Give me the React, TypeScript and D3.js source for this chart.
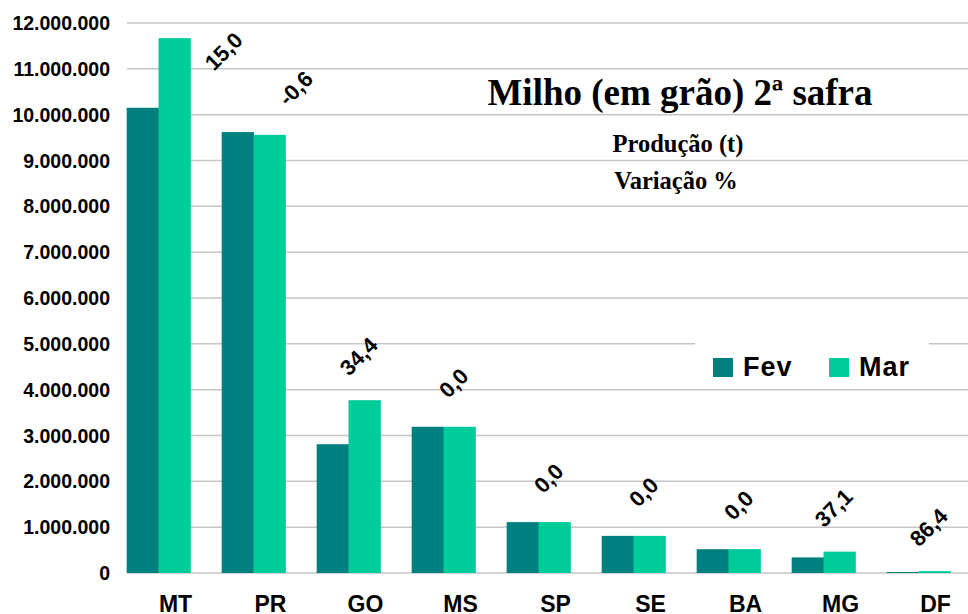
import React from "react";
import * as d3 from "d3";

// Produção (t) por UF, levantamentos de fevereiro e março
const states = ["MT", "PR", "GO", "MS", "SP", "SE", "BA", "MG", "DF"];
const fevValues = [10150000, 9620000, 2810000, 3190000, 1110000, 810000, 520000, 340000, 22000];
const marValues = [11670000, 9560000, 3770000, 3190000, 1110000, 810000, 520000, 466000, 41000];
const variation = [15.0, -0.6, 34.4, 0.0, 0.0, 0.0, 0.0, 37.1, 86.4];
const seriesNames = ["Fev", "Mar"];
const yTicks = d3.range(0, 12000001, 1000000);

const WIDTH = 968;
const HEIGHT = 614;
const colors: Record<string, string> = { Fev: "#007F7F", Mar: "#00CC99" };
const sans = "'Liberation Sans', Arial, sans-serif";
const serif = "'Liberation Serif', 'Times New Roman', serif";

const ptBR = d3.formatLocale({
  decimal: ",",
  thousands: ".",
  grouping: [3],
  currency: ["R$", ""],
});
const fmtInt = ptBR.format(",d");
const fmtPct = (v: number) => v.toFixed(1).replace(".", ",");

// labels that had to be moved by hand in the original chart
const labelNudge: Record<string, [number, number]> = {
  MT: [55, 57],
  PR: [32, 0],
};

export default function App() {
  const plotLeft = 127;
  const x = d3
    .scaleBand()
    .domain(states)
    .range([111, 966])
    .paddingInner(0.33)
    .paddingOuter(0.165);

  const xInner = d3
    .scaleBand()
    .domain(seriesNames)
    .range([0, x.bandwidth()])
    .padding(0);

  const y = d3.scaleLinear().domain([0, 12000000]).range([573, 23]);

  const rows = states.map((s, i) => ({
    state: s,
    Fev: fevValues[i],
    Mar: marValues[i],
    variation: variation[i],
  }));

  return (
    <div style={{ position: "fixed", left: 0, top: 0 }}>
      <svg width={WIDTH} height={HEIGHT} style={{ display: "block", background: "#fff" }}>
        {/* gridlines + y labels */}
        {yTicks.map((t) => (
          <g key={t}>
            <line
              x1={plotLeft}
              x2={WIDTH}
              y1={y(t)}
              y2={y(t)}
              stroke="#c6c6c6"
              strokeWidth={1.5}
            />
            <text
              x={110}
              y={y(t)}
              dy="0.36em"
              textAnchor="end"
              fontFamily={sans}
              fontWeight="bold"
              fontSize={19.5}
              fill="#000"
            >
              {fmtInt(t)}
            </text>
          </g>
        ))}

        {/* bars */}
        {rows.map((r) => (
          <g key={r.state} transform={`translate(${x(r.state)},0)`}>
            {seriesNames.map((s) => {
              const v = (r as any)[s] as number;
              return (
                <rect
                  key={s}
                  x={xInner(s)}
                  y={y(v)}
                  width={xInner.bandwidth() + 0.5}
                  height={y(0) - y(v)}
                  fill={colors[s]}
                />
              );
            })}
          </g>
        ))}

        {/* category labels */}
        {rows.map((r) => (
          <text
            key={r.state}
            x={(x(r.state) ?? 0) + x.bandwidth() / 2 + 17}
            y={612}
            textAnchor="middle"
            fontFamily={sans}
            fontWeight="bold"
            fontSize={23}
            fill="#000"
          >
            {r.state}
          </text>
        ))}

        {/* variation labels */}
        {rows.map((r) => {
          const nudge = labelNudge[r.state] ?? [0, 0];
          const cx = (x(r.state) ?? 0) + x.bandwidth() / 2 + 10 + nudge[0];
          const cy = y(Math.max(r.Fev, r.Mar)) - 44 + nudge[1];
          return (
            <text
              key={r.state}
              transform={`translate(${cx},${cy}) rotate(-45)`}
              textAnchor="middle"
              dy="0.36em"
              fontFamily={sans}
              fontWeight="bold"
              fontSize={22}
              fill="#000"
            >
              {fmtPct(r.variation)}
            </text>
          );
        })}

        {/* title block */}
        <text
          x={680}
          y={105}
          textAnchor="middle"
          fontFamily={serif}
          fontWeight="bold"
          fontSize={37}
          fill="#000"
        >
          Milho (em grão) 2ª safra
        </text>
        <text
          x={678}
          y={152}
          textAnchor="middle"
          fontFamily={serif}
          fontWeight="bold"
          fontSize={24.5}
          fill="#000"
        >
          Produção (t)
        </text>
        <text
          x={676}
          y={189}
          textAnchor="middle"
          fontFamily={serif}
          fontWeight="bold"
          fontSize={24.5}
          fill="#000"
        >
          Variação %
        </text>

        {/* legend */}
        <rect x={695} y={340} width={234} height={46} fill="#fff" />
        {seriesNames.map((s, i) => {
          const lx = 713 + i * 116;
          return (
            <g key={s}>
              <rect x={lx} y={358} width={20} height={19} fill={colors[s]} />
              <text
                x={lx + 30}
                y={376}
                fontFamily={sans}
                fontWeight="bold"
                fontSize={27}
                letterSpacing={1}
                fill="#000"
              >
                {s}
              </text>
            </g>
          );
        })}
      </svg>
    </div>
  );
}
